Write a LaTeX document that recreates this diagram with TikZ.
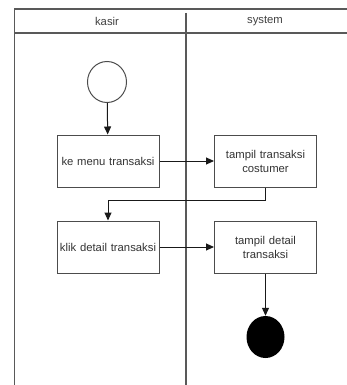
\documentclass[tikz,border=0pt]{standalone}
\usepackage{fontspec}
\setmainfont{Liberation Sans}
\usetikzlibrary{arrows.meta,shapes.geometric}
\begin{document}
\begin{tikzpicture}[x=1pt,y=-1pt,
  lane/.style={draw=black!65,line width=1.2pt},
  act/.style={draw=black!70,line width=1pt,minimum width=102pt,minimum height=52pt,align=center,font=\fontsize{11.3}{14}\selectfont,text=black!80,inner sep=2pt,text width=98pt},
  flow/.style={draw=black!90,line width=1pt,-{Triangle[length=8pt,width=7pt]}},
  title/.style={font=\fontsize{11.3}{14}\selectfont,text=black!75}]
\useasboundingbox (0,0) rectangle (347,385);
% swimlanes
\draw[lane] (14.5,385) -- (14.5,9) -- (347,9);
\draw[lane] (14.5,33) -- (347,33);
\draw[lane] (186,13) -- (186,385);
\node[title] (k) at (107,21) {kasir};
\node[title] (s) at (265,21) {system};
% nodes
\node[draw=black!70,line width=1pt,ellipse,minimum width=39pt,minimum height=41pt,inner sep=0pt] (start) at (107,82) {};
\node[act] (a1) at (108,161) {ke menu transaksi};
\node[act] (a2) at (265.5,161) {tampil transaksi\\costumer};
\node[act] (a3) at (108,247) {klik detail transaksi};
\node[act] (a4) at (265.5,247) {tampil detail\\transaksi};
\node[fill=black,ellipse,minimum width=38pt,minimum height=42pt,inner sep=0pt] (end) at (265.5,337) {};
% flows
\draw[flow] (start) -- (a1);
\draw[flow] (a1) -- (a2);
\coordinate (b1) at (a2.south |- 0,200);
\coordinate (b2) at (a3.north |- 0,200);
\draw[flow] (a2.south) -- (b1) -- (b2) -- (a3.north);
\draw[flow] (a3) -- (a4);
\draw[flow] (a4) -- (end);
\end{tikzpicture}
\end{document}
